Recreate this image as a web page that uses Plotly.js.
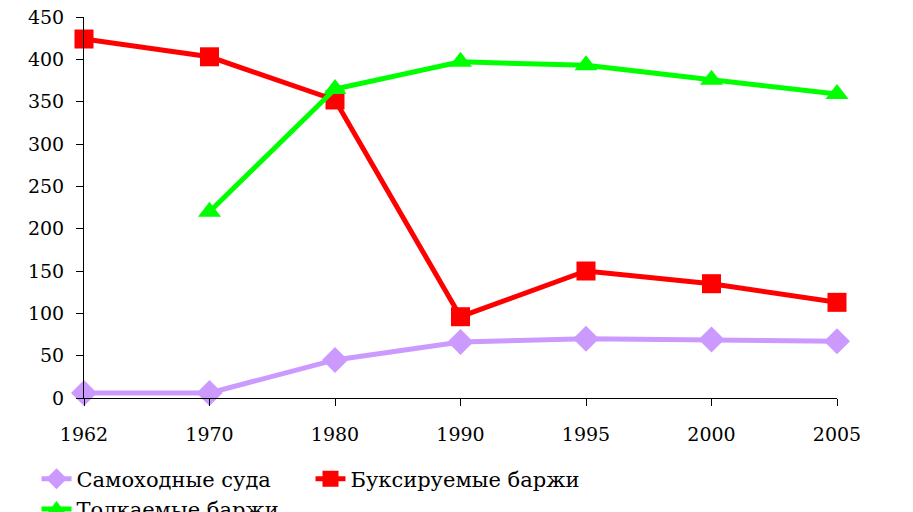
<!DOCTYPE html>
<html><head><meta charset="utf-8">
<script src="https://cdn.plot.ly/plotly-3.0.1.min.js"></script>
<style>html,body{margin:0;padding:0;background:#fff}</style>
</head><body><div id="c" style="width:913px;height:512px"></div>
<script>
const years = ["1962","1970","1980","1990","1995","2000","2005"];
const selfPropelled = [6, 6, 45, 66, 70, 69, 67];
const towedBarges = [424, 403, 352, 96, 150, 135, 113];
const pushedBarges = [null, 220, 365, 397, 393, 376, 359];
const yTicks = [0,50,100,150,200,250,300,350,400,450];

const font = {family: "DejaVu Serif", size: 19, color: "#000"};
const legendFont = {family: "DejaVu Serif", size: 21, color: "#000"};
const traces = [
  {x: years, y: selfPropelled, name: "Самоходные суда", mode: "lines+markers", cliponaxis: false,
   line: {color: "#cc99ff", width: 5}, marker: {symbol: "diamond", size: 20, color: "#cc99ff"}},
  {x: years, y: towedBarges, name: "Буксируемые баржи", mode: "lines+markers", cliponaxis: false,
   line: {color: "#ff0000", width: 5}, marker: {symbol: "square", size: 19, color: "#ff0000"}},
  {x: years, y: pushedBarges, name: "Толкаемые баржи", mode: "lines+markers", connectgaps: false, cliponaxis: false,
   line: {color: "#00ff00", width: 5}, marker: {symbol: "triangle-up", size: 20, color: "#00ff00"}}
];
const layout = {
  width: 913, height: 512,
  margin: {l: 84, r: 76, t: 17, b: 114},
  paper_bgcolor: "#fff", plot_bgcolor: "#fff",
  font: font,
  showlegend: true,
  legend: {orientation: "h", xref: "container", yref: "container", x: 0.04, xanchor: "left", y: 0.035, yanchor: "middle",
           font: legendFont, itemwidth: 30, tracegroupgap: 0},
  xaxis: {type: "category", range: [0, 6], showgrid: false, zeroline: false, showline: true, linecolor: "#000", linewidth: 1,
          ticks: "outside", ticklen: 7, tickcolor: "#000", tickfont: font, ticklabelstandoff: 12, automargin: false},
  yaxis: {range: [0, 450], tickvals: yTicks, showgrid: false, zeroline: false, showline: true, linecolor: "#000", linewidth: 1,
          ticks: "outside", ticklen: 7, tickcolor: "#000", tickfont: font, ticklabelstandoff: 8, automargin: false},
};
Plotly.newPlot("c", traces, layout, {displayModeBar: false, staticPlot: true});
</script></body></html>
